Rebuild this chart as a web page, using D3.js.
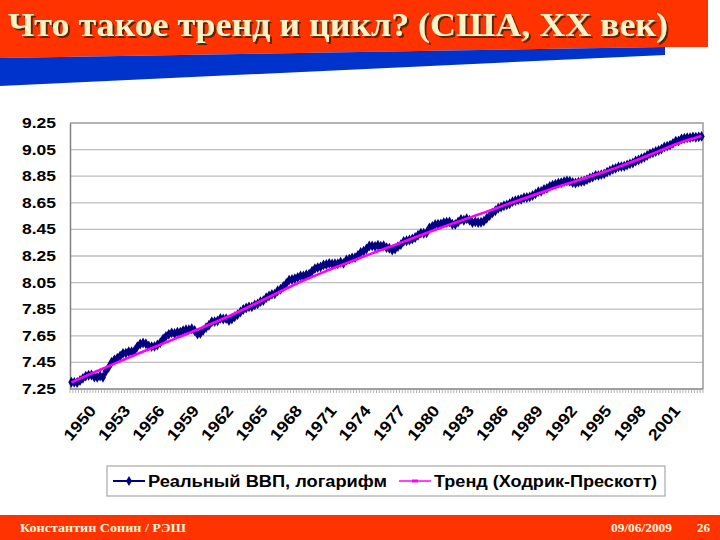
<!DOCTYPE html>
<html><head><meta charset="utf-8">
<script src="https://cdn.jsdelivr.net/npm/d3@7"></script>
<style>body{margin:0;background:#fff}svg{display:block}</style>
</head><body>
<svg id="c" width="720" height="540"></svg>
<script>
// ---------- data ----------
const titleText = "Что такое тренд и цикл? (США, XX век)";
const footerLeft = "Константин Сонин / РЭШ";
const footerDate = "09/06/2009";
const pageNumber = "26";
const seriesNames = ["Реальный ВВП, логарифм", "Тренд (Ходрик-Прескотт)"];
const firstYear = 1947;          // first quarter = 1947 Q1
const yTicks = [7.25, 7.45, 7.65, 7.85, 8.05, 8.25, 8.45, 8.65, 8.85, 9.05, 9.25];
const xTickYears = [1950, 1953, 1956, 1959, 1962, 1965, 1968, 1971, 1974, 1977, 1980, 1983, 1986, 1989, 1992, 1995, 1998, 2001];

// quarterly log real GDP, 1947Q1 .. 2002Q1
const gdpLog = [
  7.301, 7.300, 7.299, 7.314,
  7.330, 7.347, 7.353, 7.355,
  7.340, 7.337, 7.348, 7.338,
  7.383, 7.413, 7.451, 7.469,
  7.481, 7.498, 7.518, 7.520,
  7.530, 7.531, 7.537, 7.569,
  7.588, 7.596, 7.590, 7.574,
  7.569, 7.570, 7.581, 7.598,
  7.626, 7.646, 7.661, 7.672,
  7.668, 7.677, 7.677, 7.689,
  7.696, 7.696, 7.703, 7.690,
  7.663, 7.668, 7.691, 7.712,
  7.729, 7.756, 7.757, 7.762,
  7.781, 7.776, 7.779, 7.765,
  7.776, 7.793, 7.809, 7.829,
  7.848, 7.859, 7.868, 7.868,
  7.882, 7.890, 7.907, 7.914,
  7.936, 7.949, 7.962, 7.965,
  7.989, 8.000, 8.021, 8.043,
  8.069, 8.073, 8.080, 8.089,
  8.100, 8.100, 8.109, 8.114,
  8.136, 8.155, 8.163, 8.168,
  8.183, 8.186, 8.194, 8.190,
  8.192, 8.192, 8.203, 8.195,
  8.220, 8.227, 8.236, 8.238,
  8.255, 8.277, 8.286, 8.303,
  8.325, 8.326, 8.322, 8.331,
  8.324, 8.327, 8.313, 8.308,
  8.295, 8.303, 8.321, 8.335,
  8.360, 8.365, 8.370, 8.378,
  8.389, 8.406, 8.422, 8.421,
  8.425, 8.462, 8.472, 8.487,
  8.490, 8.491, 8.501, 8.504,
  8.507, 8.489, 8.488, 8.506,
  8.525, 8.519, 8.530, 8.519,
  8.501, 8.507, 8.502, 8.504,
  8.512, 8.534, 8.554, 8.574,
  8.590, 8.609, 8.618, 8.628,
  8.634, 8.643, 8.659, 8.666,
  8.672, 8.677, 8.688, 8.690,
  8.694, 8.705, 8.717, 8.734,
  8.736, 8.751, 8.758, 8.774,
  8.783, 8.790, 8.798, 8.802,
  8.809, 8.815, 8.812, 8.803,
  8.799, 8.805, 8.809, 8.814,
  8.824, 8.835, 8.843, 8.856,
  8.856, 8.862, 8.867, 8.881,
  8.891, 8.902, 8.909, 8.920,
  8.922, 8.925, 8.934, 8.943,
  8.949, 8.964, 8.972, 8.983,
  8.992, 9.006, 9.018, 9.026,
  9.036, 9.044, 9.054, 9.070,
  9.076, 9.084, 9.097, 9.114,
  9.116, 9.131, 9.135, 9.139,
  9.140, 9.146, 9.143, 9.146,
  9.149
];

// Hodrick-Prescott trend, read at Q1 of each year 1947..2002
const trendYears = [1947,1948,1949,1950,1951,1952,1953,1954,1955,1956,1957,1958,1959,1960,1961,1962,1963,1964,1965,1966,1967,1968,1969,1970,1971,1972,1973,1974,1975,1976,1977,1978,1979,1980,1981,1982,1983,1984,1985,1986,1987,1988,1989,1990,1991,1992,1993,1994,1995,1996,1997,1998,1999,2000,2001,2002];
const trendLog = [7.300,7.338,7.376,7.413,7.450,7.486,7.522,7.557,7.592,7.627,7.662,7.697,7.733,7.770,7.808,7.848,7.889,7.931,7.973,8.015,8.055,8.093,8.129,8.163,8.196,8.229,8.262,8.294,8.326,8.358,8.391,8.423,8.455,8.486,8.516,8.546,8.576,8.607,8.638,8.668,8.698,8.728,8.757,8.785,8.812,8.840,8.868,8.897,8.928,8.960,8.994,9.029,9.064,9.098,9.127,9.152];

// ---------- drawing ----------
const svg = d3.select("#c");
const RED = "#ff3300", BLUE = "#0033cc", NAVY = "#000080", MAG = "#ff00ff";
const sans = "'Liberation Sans', Arial, sans-serif";
const serif = "'Liberation Serif', 'Times New Roman', serif";

const defs = svg.append("defs");
const f = defs.append("filter").attr("id", "sh").attr("x", "-5%").attr("y", "-20%").attr("width", "110%").attr("height", "150%");
f.append("feDropShadow").attr("dx", 2).attr("dy", 2).attr("stdDeviation", 0.4)
  .attr("flood-color", "#4a2008").attr("flood-opacity", 0.9);

svg.append("rect").attr("width", 720).attr("height", 540).attr("fill", "#fff");

// header bands
svg.append("polygon").attr("points", "0,0 708,0 708,47 665,47 0,58").attr("fill", RED);
svg.append("polygon").attr("points", "0,58 665,47 665,55 0,86").attr("fill", BLUE);
svg.append("text").text(titleText)
  .attr("x", 8).attr("y", 36).attr("font-family", serif).attr("font-weight", "bold")
  .attr("font-size", 34).attr("textLength", 660).attr("lengthAdjust", "spacingAndGlyphs")
  .attr("fill", "#fff2c4").attr("filter", "url(#sh)");

// footer
svg.append("rect").attr("x", 0).attr("y", 515).attr("width", 720).attr("height", 25).attr("fill", RED);
svg.append("text").text(footerLeft).attr("x", 20).attr("y", 532)
  .attr("font-family", serif).attr("font-weight", "bold").attr("font-size", 13)
  .attr("textLength", 166).attr("lengthAdjust", "spacingAndGlyphs").attr("fill", "#fff4dc");
svg.append("text").text(footerDate).attr("x", 611).attr("y", 532)
  .attr("font-family", serif).attr("font-weight", "bold").attr("font-size", 12)
  .attr("textLength", 61).attr("lengthAdjust", "spacingAndGlyphs").attr("fill", "#fff4dc");
svg.append("text").text(pageNumber).attr("x", 697).attr("y", 532)
  .attr("font-family", serif).attr("font-weight", "bold").attr("font-size", 13)
  .attr("fill", "#fff4dc");

// scales
const L = 70, R = 703, T = 123, B = 389;
const x = d3.scaleBand().domain(d3.range(gdpLog.length)).range([L, R]).paddingInner(0).paddingOuter(0);
const cx = i => x(i) + x.bandwidth() / 2;
const y = d3.scaleLinear().domain([yTicks[0], yTicks[yTicks.length - 1]]).range([B, T]);

// gridlines
svg.append("g").selectAll("line").data(yTicks.slice(1, -1)).join("line")
  .attr("x1", L).attr("x2", R).attr("y1", d => y(d)).attr("y2", d => y(d))
  .attr("stroke", "#bdbdbd").attr("stroke-width", 1.3);

// frame (top & right)
svg.append("path").attr("d", d3.line()([[L, y(yTicks[yTicks.length - 1])], [R, y(yTicks[yTicks.length - 1])], [R, B]]))
  .attr("fill", "none").attr("stroke", "#9a9a9a").attr("stroke-width", 1.5);

// y axis
const yAxis = svg.append("g").attr("transform", `translate(${L},0)`)
  .call(d3.axisLeft(y).tickValues(yTicks).tickSize(0).tickPadding(14).tickFormat(d3.format(".2f")));
yAxis.select(".domain").attr("stroke", "#808080").attr("stroke-width", 1.5);
yAxis.selectAll("text").attr("font-family", sans).attr("font-weight", "bold").attr("font-size", 14)
  .attr("fill", "#000").attr("textLength", 34).attr("lengthAdjust", "spacingAndGlyphs");

// x axis: category tick marks between quarters
const xg = svg.append("g");
xg.append("line").attr("x1", L).attr("x2", R).attr("y1", B).attr("y2", B)
  .attr("stroke", "#808080").attr("stroke-width", 1.5);
xg.selectAll("line.tk").data(d3.range(gdpLog.length + 1)).join("line").attr("class", "tk")
  .attr("x1", i => i < gdpLog.length ? x(i) : R).attr("x2", i => i < gdpLog.length ? x(i) : R)
  .attr("y1", B).attr("y2", B + 4).attr("stroke", "#a0a0a0").attr("stroke-width", 0.8);
xg.selectAll("text").data(xTickYears).join("text")
  .attr("transform", d => `translate(${cx((d - firstYear) * 4) - 9},${B + 22}) rotate(-50)`)
  .attr("text-anchor", "end").attr("font-family", sans).attr("font-weight", "bold")
  .attr("font-size", 16).attr("textLength", 40).attr("lengthAdjust", "spacingAndGlyphs")
  .attr("fill", "#000").text(d => d);

// series 1: GDP with diamond markers
const line = d3.line().x((d, i) => cx(i)).y(d => y(d));
svg.append("path").datum(gdpLog).attr("d", line).attr("fill", "none")
  .attr("stroke", NAVY).attr("stroke-width", 3).attr("stroke-linejoin", "round");
const diamond = d3.symbol().type(d3.symbolDiamond).size(34);
svg.append("g").selectAll("path").data(gdpLog).join("path")
  .attr("d", diamond).attr("transform", (d, i) => `translate(${cx(i)},${y(d)})`).attr("fill", NAVY);

// series 2: HP trend
const tline = d3.line().curve(d3.curveMonotoneX)
  .x((d, i) => cx((trendYears[i] - firstYear) * 4)).y(d => y(d));
svg.append("path").datum(trendLog).attr("d", tline).attr("fill", "none")
  .attr("stroke", MAG).attr("stroke-width", 2.6);

// legend
const lg = svg.append("g");
lg.append("rect").attr("x", 107).attr("y", 466).attr("width", 558).attr("height", 30)
  .attr("fill", "#fff").attr("stroke", "#a8a8a8").attr("stroke-width", 1.2);
lg.append("line").attr("x1", 113).attr("x2", 145).attr("y1", 481).attr("y2", 481)
  .attr("stroke", NAVY).attr("stroke-width", 2);
lg.append("path").attr("d", d3.symbol().type(d3.symbolDiamond).size(30))
  .attr("transform", "translate(129,481)").attr("fill", NAVY);
lg.append("text").text(seriesNames[0]).attr("x", 148).attr("y", 487)
  .attr("font-family", sans).attr("font-weight", "bold").attr("font-size", 16)
  .attr("textLength", 239).attr("lengthAdjust", "spacingAndGlyphs");
lg.append("line").attr("x1", 399).attr("x2", 431).attr("y1", 481).attr("y2", 481)
  .attr("stroke", MAG).attr("stroke-width", 1.5);
lg.append("line").attr("x1", 412).attr("x2", 418).attr("y1", 481).attr("y2", 481)
  .attr("stroke", MAG).attr("stroke-width", 3);
lg.append("text").text(seriesNames[1]).attr("x", 434).attr("y", 487)
  .attr("font-family", sans).attr("font-weight", "bold").attr("font-size", 16)
  .attr("textLength", 223).attr("lengthAdjust", "spacingAndGlyphs");
</script>
</body></html>
